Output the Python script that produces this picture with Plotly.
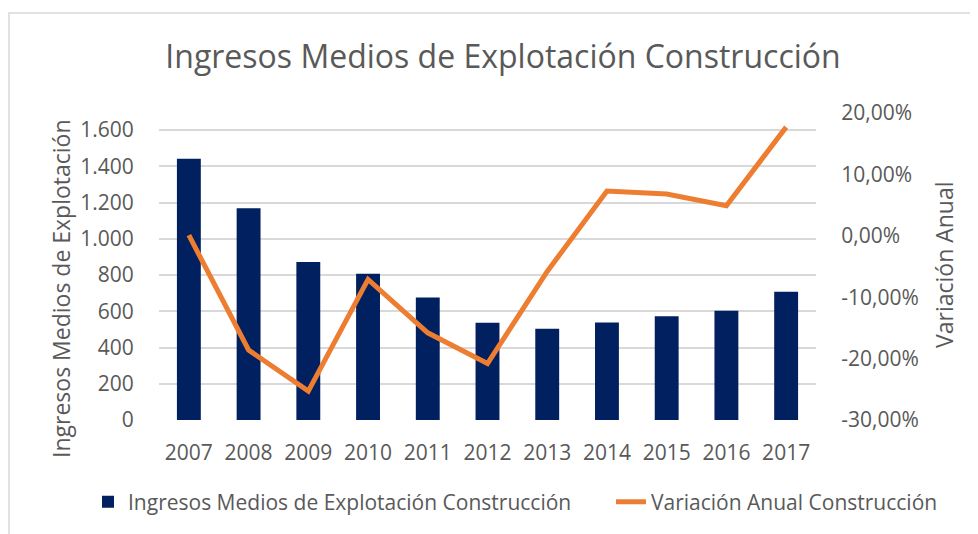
import plotly.graph_objects as go

years = ["2007", "2008", "2009", "2010", "2011", "2012", "2013", "2014", "2015", "2016", "2017"]
ingresos = [1441, 1169, 872, 807, 676, 536, 503, 538, 573, 603, 708]
variacion = [0.001, -0.186, -0.253, -0.071, -0.158, -0.208, -0.058, 0.073, 0.068, 0.049, 0.177]

y2_tickvals = [-0.30, -0.20, -0.10, 0.0, 0.10, 0.20]
y2_ticktext = ["-30,00%", "-20,00%", "-10,00%", "0,00%", "10,00%", "20,00%"]

bar_name = "Ingresos Medios de Explotación Construcción"
line_name = "Variación Anual Construcción"
title_text = "Ingresos Medios de Explotación Construcción"
y1_title = "Ingresos Medios de Explotación"
y2_title = "Variación Anual"

# page body has an 8px margin; compensate so the picture lines up with the 978x534 window
OFF = 8
W, H = 978 - OFF, 534 - OFF
L, R, T, B = 159 - OFF, 162, 113 - OFF, 114
pw, ph = W - L - R, H - T - B

def px(x):
    return (x - OFF - L) / pw

def py(y):
    return (H - B - (y - OFF)) / ph

FONT = "Open Sans"
GRAY = "#595959"
TS = 21

fig = go.Figure()
fig.add_trace(go.Bar(x=years, y=ingresos, name=bar_name, marker=dict(color="#002060"),
                     yaxis="y", legend="legend"))
fig.add_trace(go.Scatter(x=years, y=variacion, name=line_name, mode="lines",
                         line=dict(color="#ED7D31", width=5), yaxis="y2", legend="legend2"))

fig.update_layout(
    template="none",
    width=W, height=H,
    margin=dict(l=L, r=R, t=T, b=B, autoexpand=False),
    paper_bgcolor="white", plot_bgcolor="white",
    separators=",.",
    font=dict(family=FONT, color=GRAY, size=TS),
    bargap=0.6,
    title=dict(text=title_text, x=(503 - OFF) / W, xanchor="center", y=1 - (57 - OFF) / H,
               yanchor="middle", font=dict(size=32, color=GRAY, family=FONT)),
    xaxis=dict(type="category", tickmode="array", tickvals=years, ticktext=years,
               showgrid=False, ticks="outside", ticklen=14, tickcolor="rgba(0,0,0,0)",
               tickfont=dict(size=TS), showline=False, zeroline=False, automargin=False),
    yaxis=dict(range=[0, 1694], tick0=0, dtick=200, tickformat=",d", showgrid=True,
               gridcolor="#d9d9d9", gridwidth=1.5, zeroline=False, showline=False,
               ticks="outside", ticklen=20, tickcolor="rgba(0,0,0,0)", tickfont=dict(size=TS),
               automargin=False),
    yaxis2=dict(range=[-0.30, 0.20], tickmode="array", tickvals=y2_tickvals, ticktext=y2_ticktext,
                overlaying="y", side="right", showgrid=False, zeroline=False, showline=False,
                ticks="outside", ticklen=20, tickcolor="rgba(0,0,0,0)", tickfont=dict(size=TS),
                automargin=False),
    legend=dict(orientation="h", x=px(88), xanchor="left", y=py(502), yanchor="middle",
                font=dict(size=TS, color=GRAY), bgcolor="rgba(0,0,0,0)"),
    legend2=dict(orientation="h", x=px(611), xanchor="left", y=py(502), yanchor="middle",
                 font=dict(size=TS, color=GRAY), bgcolor="rgba(0,0,0,0)"),
    showlegend=True,
)

fig.add_annotation(text=y1_title, xref="paper", yref="paper", x=px(61), y=py(289),
                   xanchor="center", yanchor="middle", textangle=-90, showarrow=False,
                   font=dict(size=23, color=GRAY, family=FONT))
fig.add_annotation(text=y2_title, xref="paper", yref="paper", x=px(944), y=py(265),
                   xanchor="center", yanchor="middle", textangle=-90, showarrow=False,
                   font=dict(size=23, color=GRAY, family=FONT))

fig.add_shape(type="rect", xref="paper", yref="paper", x0=px(9), y0=py(13), x1=px(1000), y1=py(560),
              line=dict(color="#d9d9d9", width=1.5), fillcolor="rgba(0,0,0,0)", layer="below")

fig.write_html("out.html")
